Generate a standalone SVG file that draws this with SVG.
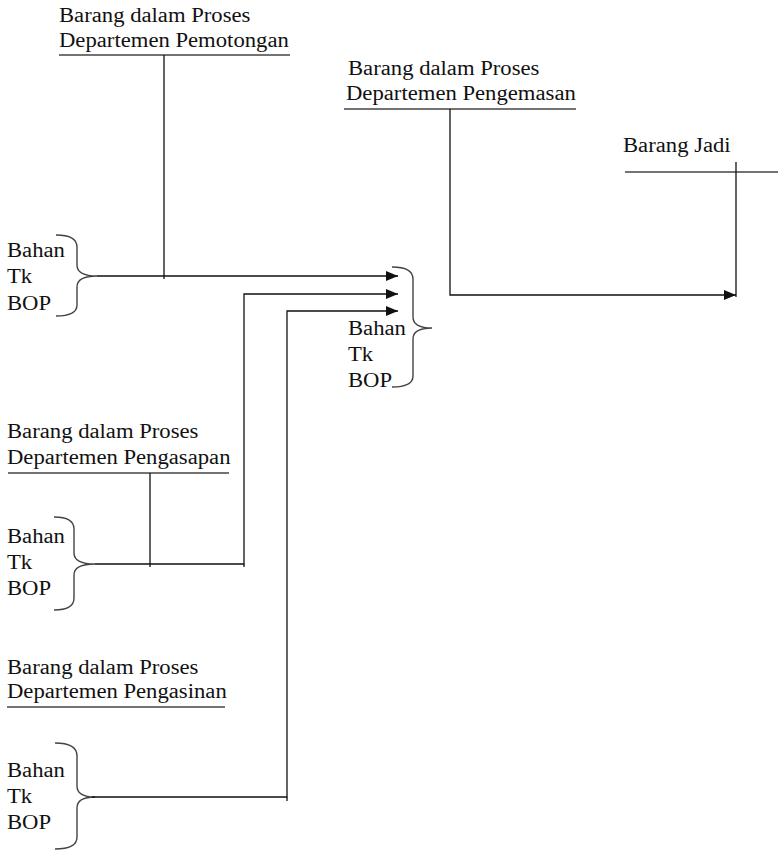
<svg xmlns="http://www.w3.org/2000/svg" width="778" height="852" viewBox="0 0 778 852">
<style>
text{font-family:"Liberation Serif","Times New Roman",serif;font-size:20px;fill:#111}
.ul{stroke:#444;stroke-width:1.6;fill:none}
.br{stroke:#444;stroke-width:1.4;fill:none}
.ln{stroke:#111;stroke-width:1.3;fill:none}
</style>
<defs>
<marker id="ah" viewBox="0 0 12 10" refX="12" refY="5" markerWidth="12" markerHeight="10" markerUnits="userSpaceOnUse" orient="auto">
<path d="M0,0 L12,5 L0,10 Z" fill="#111"/>
</marker>
</defs>
<g id="dept-pemotongan">
<text transform="matrix(1.134,0,0,1,59,22)">Barang dalam Proses</text>
<text transform="matrix(1.134,0,0,1,59,47)">Departemen Pemotongan</text>
<line class="ul" x1="59" y1="55" x2="290" y2="55"/>
</g>
<g id="dept-pengemasan">
<text transform="matrix(1.134,0,0,1,348,75)">Barang dalam Proses</text>
<text transform="matrix(1.134,0,0,1,346,100)">Departemen Pengemasan</text>
<line class="ul" x1="344" y1="109" x2="576" y2="109"/>
</g>
<g id="barang-jadi">
<text transform="matrix(1.134,0,0,1,623,152)">Barang Jadi</text>
<line class="ul" x1="625" y1="172" x2="778" y2="172"/>
</g>
<g id="dept-pengasapan">
<text transform="matrix(1.134,0,0,1,7,438)">Barang dalam Proses</text>
<text transform="matrix(1.134,0,0,1,7,464)">Departemen Pengasapan</text>
<line class="ul" x1="8" y1="473" x2="229" y2="473"/>
</g>
<g id="dept-pengasinan">
<text transform="matrix(1.134,0,0,1,7,674)">Barang dalam Proses</text>
<text transform="matrix(1.134,0,0,1,7,698)">Departemen Pengasinan</text>
<line class="ul" x1="7" y1="707" x2="225" y2="707" stroke-width="2.2" stroke="#666"/>
</g>
<g id="input-pemotongan">
<text transform="matrix(1.134,0,0,1,7,257)">Bahan</text>
<text transform="matrix(1.134,0,0,1,7,283)">Tk</text>
<text transform="matrix(1.134,0,0,1,7,310)">BOP</text>
<path class="br" d="M56,235 Q77,235 77,247 L77,265 Q77,276 97,276 Q77,276 77,287 L77,305 Q77,316 56,316"/>
</g>
<g id="input-pengemasan">
<text transform="matrix(1.134,0,0,1,348,335)">Bahan</text>
<text transform="matrix(1.134,0,0,1,348,361)">Tk</text>
<text transform="matrix(1.134,0,0,1,348,387)">BOP</text>
<path class="br" d="M392,267 Q413,267 413,279 L413,317 Q413,328 432,328 Q413,328 413,339 L413,376 Q413,387 392,387"/>
</g>
<g id="input-pengasapan">
<text transform="matrix(1.134,0,0,1,7,543)">Bahan</text>
<text transform="matrix(1.134,0,0,1,7,569)">Tk</text>
<text transform="matrix(1.134,0,0,1,7,595)">BOP</text>
<path class="br" d="M54,517 Q74,517 74,529 L74,553 Q74,564 95,564 Q74,564 74,575 L74,598 Q74,610 54,610"/>
</g>
<g id="input-pengasinan">
<text transform="matrix(1.134,0,0,1,7,777)">Bahan</text>
<text transform="matrix(1.134,0,0,1,7,803)">Tk</text>
<text transform="matrix(1.134,0,0,1,7,829)">BOP</text>
<path class="br" d="M55,743 Q77,743 77,756 L77,786 Q77,797 95,797 Q77,797 77,808 L77,837 Q77,849 55,849"/>
</g>
<g id="connectors">
<line class="ln" x1="164" y1="55" x2="164" y2="279"/>
<line class="ln" x1="97" y1="276" x2="398" y2="276" marker-end="url(#ah)"/>
<line class="ln" x1="150" y1="473" x2="150" y2="567"/>
<polyline class="ln" points="95,564 244,564 244,294 398,294" marker-end="url(#ah)"/>
<polyline class="ln" points="92,797 287,797 287,311 398,311" marker-end="url(#ah)"/>
<line class="ln" x1="287" y1="797" x2="287" y2="801"/>
<line class="ln" x1="244" y1="564" x2="244" y2="567"/>
<polyline class="ln" points="450,109 450,295 736,295" marker-end="url(#ah)"/>
<line class="ln" x1="736" y1="162" x2="736" y2="297"/>
</g>
</svg>
